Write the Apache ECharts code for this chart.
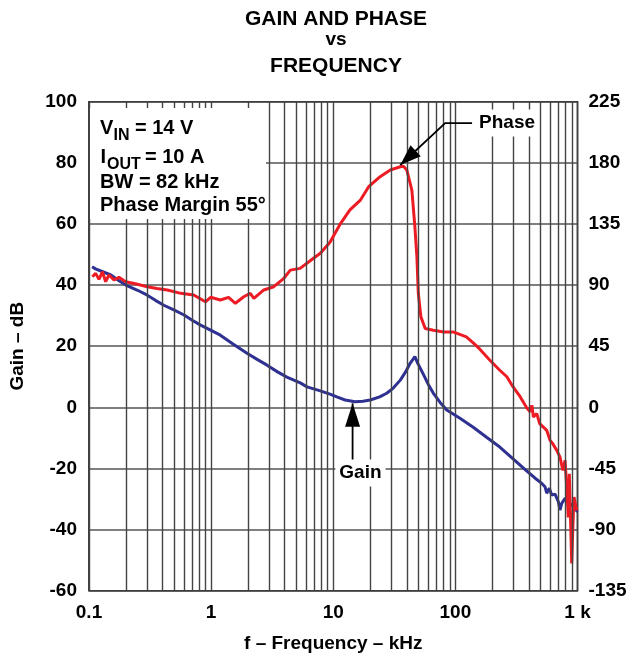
<!DOCTYPE html>
<html><head><meta charset="utf-8">
<script src="https://cdn.jsdelivr.net/npm/echarts@6/dist/echarts.min.js"></script>
<style>html,body{margin:0;padding:0;background:#fff}#c{width:630px;height:662px}</style>
</head><body><div id="c"></div><script>
// ---- data ----
const gainFreq = [0.106,0.113,0.125,0.151,0.175,0.2,0.25,0.3,0.35,0.41,0.5,0.6,0.7,0.82,1.0,1.19,1.5,1.98,2.4,2.87,3.5,4.17,5.37,6.1,7.84,9.4,10.7,12.5,15.1,17.5,20.1,24,27.4,31,35.4,39,42.6,46.6,49.2,54.2,60,66.1,75,85,109,140,180,231,300,381,450,510,542,560,588,615,655,697,719,743,791,869,925,1000];
const gainDb   = [46.0,45.3,44.6,43.3,41.5,40.0,38.3,36.7,35.0,33.4,31.8,30.2,28.5,26.9,25.2,23.6,20.8,17.6,15.6,13.8,11.6,9.9,8.0,6.7,5.4,4.3,3.4,2.4,1.8,2.0,2.4,3.4,4.6,6.3,8.9,11.5,14.4,16.6,14.4,11.1,7.5,4.6,1.6,-0.9,-3.6,-6.5,-9.8,-13.0,-17.0,-20.7,-23.2,-24.9,-26.0,-28.1,-26.5,-28.7,-28.4,-30.9,-33.6,-31.4,-29.8,-31.4,-32.5,-34.2];

const phaseFreq = [0.1066,0.1134,0.1207,0.1287,0.1369,0.1457,0.1601,0.1759,0.1995,0.24,0.3,0.36,0.438,0.564,0.72,0.899,0.99,1.19,1.39,1.58,1.85,2.09,2.24,2.7,3.26,3.94,4.45,5.35,6.89,7.84,9.4,11.5,13.7,16.7,19.5,24.2,29.3,35.4,37.5,40,44,46.6,48.4,49.7,52.2,56.6,66,80,95.6,110,123,140,158,190,231,264,296,339,372,381,409,423,436,464,490,560,596,628,676,719,759,791,816,841,857,897,914,936,984];
const phaseDeg  = [96.1,98.6,94.2,99.8,92.5,97.4,93.7,95.7,92.5,91.0,88.8,87.5,86.4,83.9,82.7,77.7,81.0,79.0,81.0,76.6,81.4,83.9,80.2,86.4,88.8,95.0,101.0,102.3,109.7,113.4,121.5,135.5,145.3,152.6,162.4,169.8,174.7,177.1,177.5,174.8,160,133,111,84,66.6,58,56.8,55.5,55.5,53.5,51.8,47.5,43,35,27.3,22.5,15.2,7.8,1.7,0.2,-3.4,1.5,-7.1,-4.6,-12,-17,-24.3,-26.8,-31.7,-36.6,-46.5,-39,-58.8,-81,-49,-115,-90.7,-66,-76];

const xTickValues = [0.1, 1, 10, 100, 1000];
const xTickLabels = ['0.1', '1', '10', '100', '1 k'];
const gainTicks  = [-60, -40, -20, 0, 20, 40, 60, 80, 100];
const phaseTicks = [-135, -90, -45, 0, 45, 90, 135, 180, 225];
const minorMultipliers = [2, 3, 4, 5, 6, 7, 8, 9];
const decades = [0.1, 1, 10, 100];

const infoLines = ['V', 'IN', '= 14 V', 'I', 'OUT', '= 10 A', 'BW = 82 kHz', 'Phase Margin 55°'];
const titleLines = ['GAIN AND PHASE', 'vs', 'FREQUENCY'];

// annotation anchors in data space
const gainArrow = { tip: [14.4, 1.3], tail: [14.4, -17.8], label: [16.7, -21.5], text: 'Gain' };
const phaseArrow = { tip: [35.4, 178.4], elbow: [82.5, 209.3], end: [137, 209.3], text: 'Phase' };

// ---- build ----
const FONT = '"Liberation Sans", Arial, Helvetica, sans-serif';
const minorFreqs = [];
decades.forEach(d => minorMultipliers.forEach(m => minorFreqs.push(+(d * m).toPrecision(3))));

const zip = (a, b) => a.map((v, i) => [v, b[i]]);

const chart = echarts.init(document.getElementById('c'), null, { renderer: 'canvas' });
const labelFor = v => {
  let best = 0, bd = Infinity;
  xTickValues.forEach((t, i) => { const d = Math.abs(Math.log10(v) - Math.log10(t)); if (d < bd) { bd = d; best = i; } });
  return xTickLabels[best];
};

chart.setOption({
  animation: false,
  backgroundColor: '#fff',
  grid: { left: 88, right: 52.5, top: 101.7, bottom: 71.3, show: true, borderColor: '#000', borderWidth: 1.5, backgroundColor: 'transparent' },
  xAxis: {
    type: 'log', logBase: 10, min: 0.1, max: 1000,
    axisLine: { show: false }, axisTick: { show: false },
    splitLine: { show: true, lineStyle: { color: '#444', width: 1.4 } },
    axisLabel: { margin: 13, color: '#000', fontSize: 19, fontWeight: 'bold', fontFamily: FONT, formatter: labelFor },
    name: 'f – Frequency – kHz', nameLocation: 'middle', nameGap: 44,
    nameTextStyle: { color: '#000', fontSize: 19, fontWeight: 'bold', fontFamily: FONT }
  },
  yAxis: [{
    type: 'value', min: gainTicks[0], max: gainTicks[gainTicks.length - 1], interval: 20,
    axisLine: { show: false }, axisTick: { show: false },
    splitLine: { show: true, lineStyle: { color: '#555', width: 1.6 } },
    axisLabel: { margin: 12, color: '#000', fontSize: 19, fontWeight: 'bold', fontFamily: FONT },
    name: 'Gain – dB', nameLocation: 'middle', nameGap: 62, nameRotate: 90,
    nameTextStyle: { color: '#000', fontSize: 19, fontWeight: 'bold', fontFamily: FONT }
  }, {
    type: 'value', min: phaseTicks[0], max: phaseTicks[phaseTicks.length - 1], interval: 45,
    axisLine: { show: false }, axisTick: { show: false }, splitLine: { show: false },
    axisLabel: { margin: 11, color: '#000', fontSize: 19, fontWeight: 'bold', fontFamily: FONT }
  }],
  series: [{
    type: 'line', name: 'minor', data: [], z: 1, silent: true,
    markLine: {
      silent: true, symbol: 'none', animation: false,
      label: { show: false },
      lineStyle: { color: '#444', width: 1.4, type: 'solid' },
      emphasis: { disabled: true },
      data: minorFreqs.map(v => ({ xAxis: v }))
    }
  }, {
    type: 'line', name: 'Gain', yAxisIndex: 0, data: zip(gainFreq, gainDb),
    showSymbol: false, symbol: 'none', smooth: false, z: 3,
    lineStyle: { color: '#2e3192', width: 3 }
  }, {
    type: 'line', name: 'Phase', yAxisIndex: 1, data: zip(phaseFreq, phaseDeg),
    showSymbol: false, symbol: 'none', smooth: false, z: 4,
    lineStyle: { color: '#ed1c24', width: 3 }
  }]
});

// ---- annotations ----
const px = (p, yi) => chart.convertToPixel({ xAxisIndex: 0, yAxisIndex: yi }, p);
function head(tip, from, len, half) {
  const dx = from[0] - tip[0], dy = from[1] - tip[1];
  const l = Math.hypot(dx, dy), ux = dx / l, uy = dy / l;
  const bx = tip[0] + ux * len, by = tip[1] + uy * len;
  return [tip, [bx - uy * half, by + ux * half], [bx + uy * half, by - ux * half]];
}
const txt = (text, x, y, size, align, extra) => Object.assign({
  type: 'text', z: 20,
  style: Object.assign({ text, x, y, font: `bold ${size}px ${FONT}`, fill: '#000',
    align: align, verticalAlign: 'middle', textAlign: align, textVerticalAlign: 'middle' }, extra || {})
});

const gT = px(gainArrow.tip, 0), gB = px(gainArrow.tail, 0), gL = px(gainArrow.label, 0);
const pT = px(phaseArrow.tip, 1), pE = px(phaseArrow.elbow, 1), pN = px(phaseArrow.end, 1);

const g = [];
// title
g.push(txt(titleLines[0], 336, 19, 21, 'center'));
g.push(txt(titleLines[1], 336, 40, 19, 'center'));
g.push(txt(titleLines[2], 336, 66, 21, 'center'));
// info box
g.push({ type: 'rect', z: 15, shape: { x: 90, y: 108, width: 176, height: 111 }, style: { fill: '#fff' } });
g.push(txt(infoLines[0], 100, 128, 20, 'left'));
g.push(txt(infoLines[1], 113.5, 136, 16, 'left'));
g.push(txt(infoLines[2], 135, 128, 20, 'left'));
g.push(txt(infoLines[3], 100.5, 157, 20, 'left'));
g.push(txt(infoLines[4], 107, 165, 16, 'left'));
g.push(txt(infoLines[5], 145, 157, 20, 'left'));
g.push(txt(infoLines[6], 100, 182, 20, 'left'));
g.push(txt(infoLines[7], 100, 205, 20, 'left'));
// gain arrow
g.push({ type: 'polyline', z: 20, shape: { points: [gB, head(gT, gB, 23, 0)[0]] }, style: { stroke: '#000', lineWidth: 1.8, fill: null } });
g.push({ type: 'polygon', z: 21, shape: { points: head(gT, gB, 23.5, 7.5) }, style: { fill: '#000' } });
g.push(txt(gainArrow.text, gL[0], gL[1], 19, 'center', { backgroundColor: '#fff', padding: [4, 4, 4, 4] }));
// phase arrow
g.push({ type: 'polyline', z: 20, shape: { points: [pT, pE, pN] }, style: { stroke: '#000', lineWidth: 1.8, fill: null } });
g.push({ type: 'polygon', z: 21, shape: { points: head(pT, pE, 21, 7.5) }, style: { fill: '#000' } });
g.push(txt(phaseArrow.text, pN[0] + 5, pN[1], 19, 'left', { backgroundColor: '#fff', padding: [4, 4, 4, 2] }));

chart.setOption({ graphic: g });
</script></body></html>
